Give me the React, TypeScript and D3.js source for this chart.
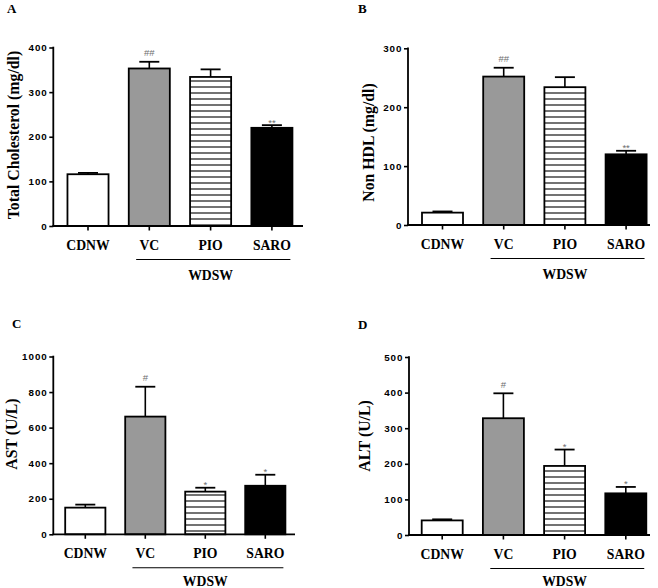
import React, { useRef, useEffect } from 'react';
import * as d3 from 'd3';

const groups = ['CDNW', 'VC', 'PIO', 'SARO'];
const wdswGroups = ['VC', 'PIO', 'SARO'];

// A - total cholesterol
const cholMean = [116, 353, 334, 220];
const cholErr = [3, 15, 17, 6];
const cholMarks = ['', '##', '', '**'];
const cholTicks = [0, 100, 200, 300, 400];

// B - non HDL
const nonHdlMean = [21, 252, 234, 120];
const nonHdlErr = [2, 15, 17, 6];
const nonHdlMarks = ['', '##', '', '**'];
const nonHdlTicks = [0, 100, 200, 300];

// C - AST
const astMean = [150, 662, 240, 273];
const astErr = [17, 168, 22, 62];
const astMarks = ['', '#', '*', '*'];
const astTicks = [0, 200, 400, 600, 800, 1000];

// D - ALT
const altMean = [41, 328, 194, 117];
const altErr = [3, 70, 46, 18];
const altMarks = ['', '#', '*', '*'];
const altTicks = [0, 100, 200, 300, 400, 500];

const serif = '"Liberation Serif", "Times New Roman", serif';
const sans = '"Liberation Sans", Arial, sans-serif';
const fills = ['#ffffff', '#999999', 'url(#hstripe)', '#000000'];

type PanelProps = {
  letter: string;
  letterX: number;
  letterY: number;
  title: string;
  titleX: number;
  titleY: number;
  axisX: number;
  yTop: number;
  y0: number;
  xEnd: number;
  c0: number;
  step: number;
  mean: number[];
  err: number[];
  marks: string[];
  ticks: number[];
};

function Panel(p: PanelProps) {
  const yAxisRef = useRef<SVGGElement>(null);

  const x = d3.scaleBand<string>()
    .domain(groups)
    .range([p.c0 - p.step / 2, p.c0 + 3.5 * p.step])
    .paddingInner(0.33)
    .paddingOuter(0.165);

  const y = d3.scaleLinear()
    .domain([0, d3.max(p.ticks) as number])
    .range([p.y0, p.yTop]);

  useEffect(() => {
    const g = d3.select(yAxisRef.current);
    g.call(
      d3.axisLeft(y)
        .tickValues(p.ticks)
        .tickFormat(d3.format('d'))
        .tickSize(4)
        .tickSizeOuter(0)
        .tickPadding(1.5)
    );
    g.select('.domain').remove();
    g.selectAll('.tick line').attr('stroke', '#000').attr('stroke-width', 1.6);
    g.selectAll('.tick text')
      .attr('font-family', sans)
      .attr('font-weight', 'bold')
      .attr('font-size', 9.8)
      .attr('letter-spacing', 1)
      .attr('fill', '#000');
  }, []);

  const bw = x.bandwidth();
  const wx1 = (x('VC') as number) + bw * 0.18;
  const wx2 = (x('SARO') as number) + bw * 0.95;
  const wMid = ((x(wdswGroups[0]) as number) + (x(wdswGroups[2]) as number) + bw) / 2;
  const wTextY = Math.min(p.y0 + 53.5, 585.5);

  return (
    <g>
      <text x={p.letterX} y={p.letterY} fontFamily={serif} fontWeight="bold" fontSize={13}>{p.letter}</text>
      <text
        transform={`translate(${p.titleX},${p.titleY}) rotate(-90)`}
        textAnchor="middle"
        fontFamily={serif}
        fontWeight="bold"
        fontSize={15.8}
      >{p.title}</text>

      {groups.map((gname, i) => {
        const bx = x(gname) as number;
        const top = y(p.mean[i]);
        const capY = y(p.mean[i] + p.err[i]);
        const cx = bx + bw / 2;
        return (
          <g key={gname}>
            <line x1={cx} x2={cx} y1={top} y2={capY} stroke="#000" strokeWidth={1.6} />
            <line x1={cx - 10} x2={cx + 10} y1={capY} y2={capY} stroke="#000" strokeWidth={1.8} />
            <rect x={bx} y={top} width={bw} height={p.y0 - top} fill={fills[i]} stroke="#000" strokeWidth={1.8} />
            {p.marks[i] && (
              <text
                x={cx}
                y={p.marks[i].startsWith('#') ? capY - 5.5 : capY + 0.5}
                textAnchor="middle"
                fontFamily={sans}
                fontSize={9.5}
                fill="#6e6e6e"
              >{p.marks[i]}</text>
            )}
            <line x1={cx} x2={cx} y1={p.y0} y2={p.y0 + 4.5} stroke="#000" strokeWidth={1.6} />
            <text x={cx} y={p.y0 + 23.5} textAnchor="middle" fontFamily={serif} fontWeight="bold" fontSize={13.7}>{gname}</text>
          </g>
        );
      })}

      <g ref={yAxisRef} transform={`translate(${p.axisX},0)`} />
      <line x1={p.axisX} x2={p.axisX} y1={p.yTop - 0.8} y2={p.y0} stroke="#000" strokeWidth={1.8} />
      <line x1={p.axisX - 0.9} x2={p.xEnd} y1={p.y0} y2={p.y0} stroke="#000" strokeWidth={1.8} />

      <line x1={wx1} x2={wx2} y1={p.y0 + 33.5} y2={p.y0 + 33.5} stroke="#000" strokeWidth={1.1} />
      <text x={wMid} y={wTextY} textAnchor="middle" fontFamily={serif} fontWeight="bold" fontSize={13.7}>WDSW</text>
    </g>
  );
}

export default function App() {
  return (
    <div style={{ position: 'absolute', left: 0, top: 0 }}>
      <svg width={658} height={588} style={{ display: 'block', background: '#fff' }}>
        <defs>
          <pattern id="hstripe" patternUnits="userSpaceOnUse" width={8} height={6}>
            <rect width={8} height={6} fill="#fff" />
            <line x1={0} x2={8} y1={3} y2={3} stroke="#000" strokeWidth={1.1} />
          </pattern>
        </defs>
        <Panel letter="A" letterX={7} letterY={13} title="Total Cholesterol (mg/dl)" titleX={18.5} titleY={135}
          axisX={53.3} yTop={47.5} y0={226} xEnd={303} c0={88} step={61.3}
          mean={cholMean} err={cholErr} marks={cholMarks} ticks={cholTicks} />
        <Panel letter="B" letterX={358} letterY={13} title="Non HDL (mg/dl)" titleX={373.5} titleY={142.5}
          axisX={408} yTop={48.3} y0={225} xEnd={650} c0={442.5} step={61.2}
          mean={nonHdlMean} err={nonHdlErr} marks={nonHdlMarks} ticks={nonHdlTicks} />
        <Panel letter="C" letterX={12} letterY={328} title="AST (U/L)" titleX={17} titleY={434}
          axisX={53.3} yTop={356.5} y0={534.3} xEnd={295} c0={85.3} step={60}
          mean={astMean} err={astErr} marks={astMarks} ticks={astTicks} />
        <Panel letter="D" letterX={358} letterY={329} title="ALT (U/L)" titleX={370} titleY={436}
          axisX={409} yTop={357} y0={535} xEnd={650} c0={442.2} step={61.2}
          mean={altMean} err={altErr} marks={altMarks} ticks={altTicks} />
      </svg>
    </div>
  );
}
